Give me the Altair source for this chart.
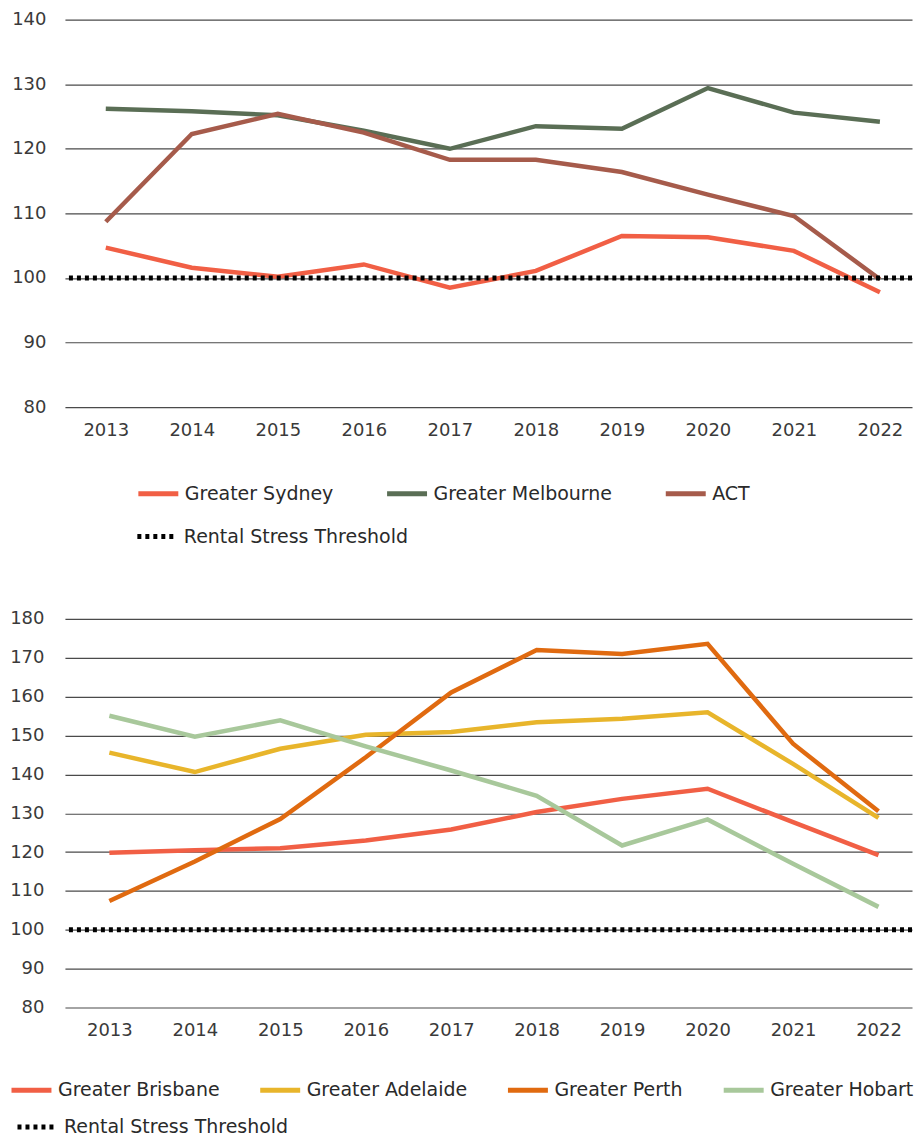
import altair as alt
import pandas as pd

years = [2013, 2014, 2015, 2016, 2017, 2018, 2019, 2020, 2021, 2022]

top_series = ["Greater Sydney", "Greater Melbourne", "ACT"]
top_colors = ["#F15F45", "#5A6E55", "#A65B4B"]
sydney = [104.7, 101.6, 100.2, 102.1, 98.5, 101.1, 106.5, 106.3, 104.2, 97.8]
melbourne = [126.2, 125.8, 125.2, 122.8, 120.0, 123.5, 123.1, 129.4, 125.6, 124.2]
act = [108.7, 122.3, 125.4, 122.5, 118.3, 118.3, 116.4, 112.9, 109.6, 99.8]

bottom_series = ["Greater Brisbane", "Greater Adelaide", "Greater Perth", "Greater Hobart"]
bottom_colors = ["#F15F45", "#E8B52B", "#E06A10", "#A8C89B"]
brisbane = [119.8, 120.5, 121.0, 123.0, 125.8, 130.3, 133.7, 136.3, 127.7, 119.2]
adelaide = [145.6, 140.6, 146.6, 150.2, 150.9, 153.4, 154.3, 156.0, 142.7, 128.8]
perth = [107.4, 117.6, 128.5, 144.4, 161.1, 172.0, 171.0, 173.6, 147.9, 130.5]
hobart = [155.1, 149.7, 153.9, 147.2, 141.0, 134.5, 121.7, 128.4, 117.0, 105.9]

threshold_label = "Rental Stress Threshold"
threshold_value = 100

top_ticks = [80, 90, 100, 110, 120, 130, 140]
bottom_ticks = [80, 90, 100, 110, 120, 130, 140, 150, 160, 170, 180]

FONT = "DejaVu Sans"


def long_df(names, arrays):
    rows = []
    for n, arr in zip(names, arrays):
        for y, v in zip(years, arr):
            rows.append({"year": str(y), "series": n, "value": v})
    return pd.DataFrame(rows)


def panel(names, colors, arrays, ticks, w, h, ylab_pad, xpad, xalign,
          leg_x, leg_y, leg_pad, thr_x, thr_y):
    df = long_df(names, arrays)
    thr = pd.DataFrame({"value": [threshold_value], "label": [threshold_label]})
    xenc = alt.X(
        "year:O",
        scale=alt.Scale(type="point", padding=xpad, align=xalign),
        axis=alt.Axis(title=None, labelAngle=0, domain=False, ticks=False,
                      labelPadding=14, grid=False),
    )
    yscale = alt.Scale(domain=[ticks[0], ticks[-1]], nice=False, zero=False)
    yaxis = alt.Axis(title=None, values=ticks, domain=False, ticks=False,
                     labelPadding=ylab_pad, grid=True, gridColor="#4a4a4a",
                     gridWidth=1.2, labelOverlap=False)
    lines = alt.Chart(df).mark_line(strokeWidth=4.5, strokeJoin="miter").encode(
        x=xenc,
        y=alt.Y("value:Q", scale=yscale, axis=yaxis),
        color=alt.Color(
            "series:N",
            scale=alt.Scale(domain=names, range=colors),
            sort=names,
            legend=alt.Legend(
                title=None, orient="none", direction="horizontal",
                legendX=leg_x, legendY=leg_y, columnPadding=leg_pad,
                symbolType="stroke", symbolSize=1600, symbolStrokeWidth=5,
                labelOffset=4,
            ),
        ),
        order=alt.Order("year:O"),
    )
    rule = alt.Chart(thr).mark_rule(color="black", strokeWidth=5).encode(
        y=alt.Y("value:Q", scale=yscale, axis=yaxis),
        strokeDash=alt.StrokeDash(
            "label:N",
            scale=alt.Scale(domain=[threshold_label], range=[[4, 4]]),
            legend=alt.Legend(
                title=None, orient="none", legendX=thr_x, legendY=thr_y,
                symbolType="stroke", symbolSize=1600, symbolStrokeWidth=5,
                symbolStrokeColor="black", labelOffset=4,
            ),
        ),
    )
    return alt.layer(lines, rule).properties(width=w, height=h)


top = panel(top_series, top_colors, [sydney, melbourne, act], top_ticks,
            848, 388, 19, 0.424, 0.56, 71, 452, 43, 70, 495)
bottom = panel(bottom_series, bottom_colors, [brisbane, adelaide, perth, hobart], bottom_ticks,
               848, 389, 21, 0.456, 0.57, -56, 449, 30, -50, 486)

chart = alt.vconcat(top, bottom, spacing=63).resolve_scale(
    color="independent", strokeDash="independent", y="independent", x="independent"
).resolve_legend(color="independent", strokeDash="independent").properties(
    padding={"left": 1, "top": 2, "right": 0, "bottom": 0}
).configure_view(stroke=None).configure_axis(
    labelFont=FONT, labelFontSize=18, labelColor="#3a3a3a"
).configure_legend(
    labelFont=FONT, labelFontSize=19, labelColor="#2a2a2a", labelLimit=400
)

chart.save("out.html", embed_options={"renderer": "svg", "actions": False})
